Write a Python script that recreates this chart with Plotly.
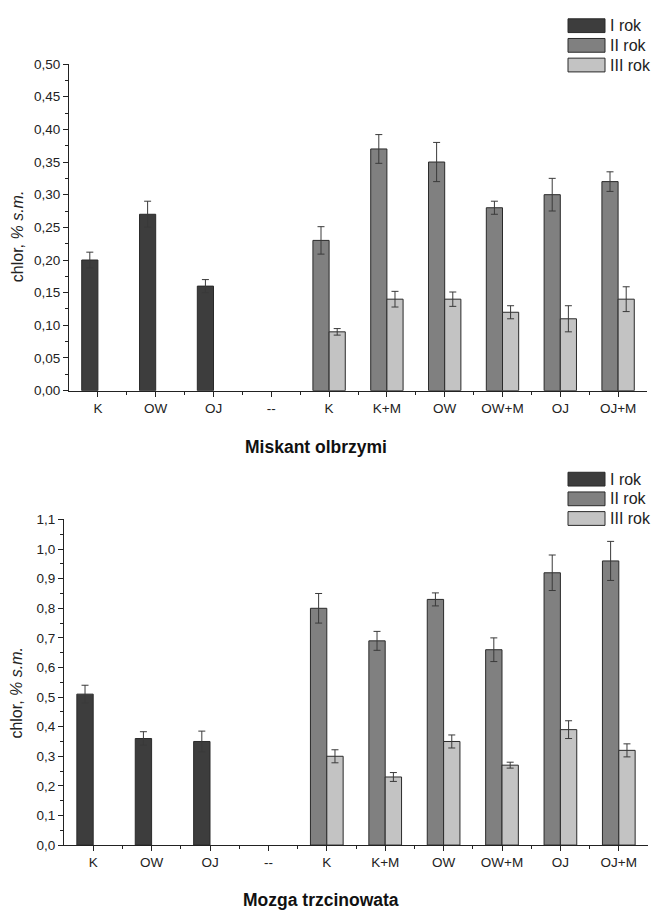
import plotly.graph_objects as go

categories = ["K", "OW", "OJ", "--", "K", "K+M", "OW", "OW+M", "OJ", "OJ+M"]
series_names = ["I rok", "II rok", "III rok"]

# Miskant olbrzymi
mis_I = [0.20, 0.27, 0.16, None, None, None, None, None, None, None]
mis_I_err = [0.012, 0.02, 0.01, None, None, None, None, None, None, None]
mis_II = [None, None, None, None, 0.23, 0.37, 0.35, 0.28, 0.30, 0.32]
mis_II_err = [None, None, None, None, 0.021, 0.022, 0.03, 0.01, 0.025, 0.015]
mis_III = [None, None, None, None, 0.09, 0.14, 0.14, 0.12, 0.11, 0.14]
mis_III_err = [None, None, None, None, 0.005, 0.012, 0.011, 0.01, 0.02, 0.019]

# Mozga trzcinowata
moz_I = [0.51, 0.36, 0.35, None, None, None, None, None, None, None]
moz_I_err = [0.03, 0.023, 0.035, None, None, None, None, None, None, None]
moz_II = [None, None, None, None, 0.80, 0.69, 0.83, 0.66, 0.92, 0.96]
moz_II_err = [None, None, None, None, 0.05, 0.032, 0.022, 0.04, 0.06, 0.066]
moz_III = [None, None, None, None, 0.30, 0.23, 0.35, 0.27, 0.39, 0.32]
moz_III_err = [None, None, None, None, 0.022, 0.015, 0.022, 0.01, 0.03, 0.022]

colors = ["#3d3d3d", "#808080", "#c3c3c3"]
edge = "#2a2a2a"
FONT = "Liberation Sans, Arial, sans-serif"

W, H = 653, 918
xpos = list(range(len(categories)))
bw = 0.28
offsets = [-bw, -bw, 0.0]

fig = go.Figure()

panels = [
    ("x", "y", [mis_I, mis_II, mis_III], [mis_I_err, mis_II_err, mis_III_err]),
    ("x2", "y2", [moz_I, moz_II, moz_III], [moz_I_err, moz_II_err, moz_III_err]),
]
for xa, ya, vals, errs in panels:
    for i in range(3):
        fig.add_trace(go.Bar(
            x=xpos, y=vals[i], width=bw, offset=offsets[i],
            marker=dict(color=colors[i], line=dict(color=edge, width=1)),
            error_y=dict(type="data", array=errs[i], visible=True,
                         color="#3a3a3a", thickness=1, width=3.5),
            name=series_names[i], showlegend=False,
            xaxis=xa, yaxis=ya,
        ))

def px_x(p):
    return p / W

def px_y(p):
    return 1 - p / H

axis_common = dict(
    showline=True, linecolor="#222", linewidth=1.2,
    ticks="outside", tickcolor="#222", ticklen=5, tickwidth=1,
    showgrid=False, zeroline=False,
    tickfont=dict(family=FONT, size=13.5, color="#222"),
)

fig.update_layout(
    width=W, height=H,
    margin=dict(l=0, r=0, t=0, b=0),
    paper_bgcolor="white", plot_bgcolor="white",
    barmode="overlay",
    separators=",.",
    font=dict(family=FONT, color="#222"),
    xaxis=dict(domain=[px_x(69), px_x(647)], anchor="y", range=[-0.5, 9.5],
               tickvals=xpos, ticktext=categories,
               minor=dict(tickvals=[v + 0.5 for v in xpos[:-1]], ticks="outside", ticklen=3, tickcolor="#222"),
               **axis_common),
    yaxis=dict(domain=[px_y(390), px_y(58)], anchor="x", range=[0, 0.5],
               dtick=0.05, tickformat=".2f",
               minor=dict(dtick=0.025, ticks="outside", ticklen=3, tickcolor="#222"),
               **axis_common),
    xaxis2=dict(domain=[px_x(64), px_x(648)], anchor="y2", range=[-0.5, 9.5],
                tickvals=xpos, ticktext=categories,
                minor=dict(tickvals=[v + 0.5 for v in xpos[:-1]], ticks="outside", ticklen=3, tickcolor="#222"),
                **axis_common),
    yaxis2=dict(domain=[px_y(852), px_y(521)], anchor="x2", range=[0, 1.1],
                dtick=0.1, tickformat=".1f",
                minor=dict(dtick=0.05, ticks="outside", ticklen=3, tickcolor="#222"),
                **axis_common),
)

shapes = []
annotations = []

# y-axis titles
for ycenter in (233, 697):
    annotations.append(dict(xref="paper", yref="paper", x=px_x(17), y=px_y(ycenter),
                            text="chlor, <i>% s.m.</i>", textangle=-90, showarrow=False,
                            xanchor="center", yanchor="middle",
                            font=dict(family=FONT, size=16, color="#222")))

# custom legends (paper coordinates)
legend_tops = [12, 473]
for top in legend_tops:
    for i, name in enumerate(series_names):
        y0 = top + i * 20
        shapes.append(dict(type="rect", xref="paper", yref="paper",
                           x0=px_x(568), x1=px_x(605), y0=px_y(y0 + 14), y1=px_y(y0),
                           fillcolor=colors[i], line=dict(color=edge, width=1)))
        annotations.append(dict(xref="paper", yref="paper", x=px_x(608), y=px_y(y0 + 7),
                                text=name, showarrow=False, xanchor="left", yanchor="middle",
                                font=dict(family=FONT, size=16, color="#222")))

annotations.append(dict(xref="paper", yref="paper", x=px_x(316), y=px_y(447),
                        text="<b>Miskant olbrzymi</b>", showarrow=False,
                        xanchor="center", yanchor="middle",
                        font=dict(family=FONT, size=17.5, color="#111")))
annotations.append(dict(xref="paper", yref="paper", x=px_x(321), y=px_y(908),
                        text="<b>Mozga trzcinowata</b>", showarrow=False,
                        xanchor="center", yanchor="middle",
                        font=dict(family=FONT, size=17.5, color="#111")))

fig.update_layout(shapes=shapes, annotations=annotations)

fig.write_html("out.html", config={"displayModeBar": False},
               post_script="document.body.style.margin='0';document.body.style.overflow='hidden';")
